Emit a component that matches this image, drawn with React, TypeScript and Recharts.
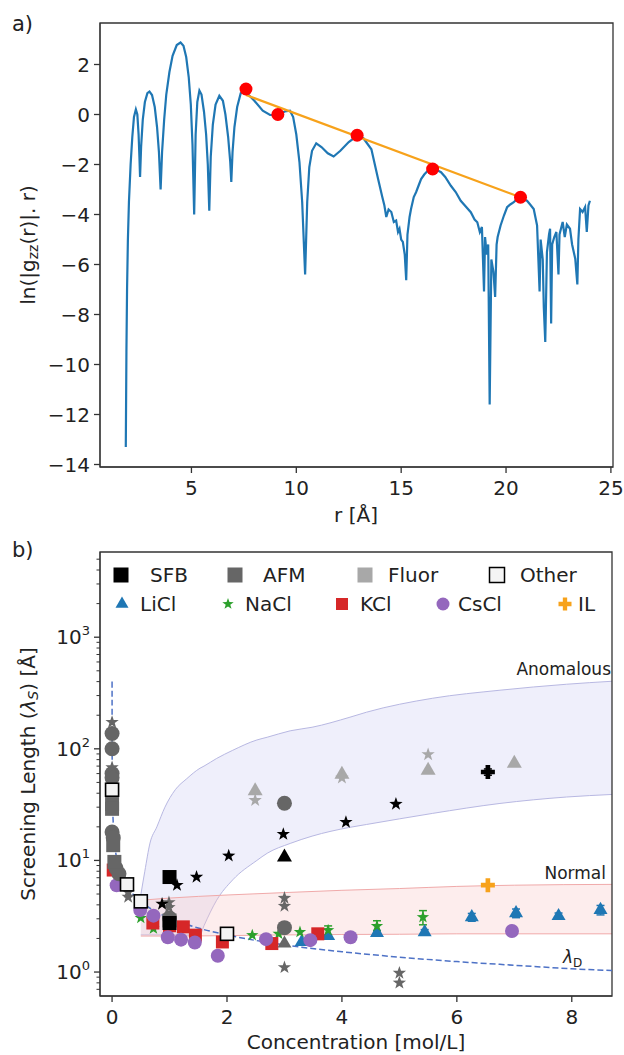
import React from 'react';
import { ComposedChart, Line, Scatter, Area, XAxis, YAxis, ReferenceArea, ErrorBar } from 'recharts';

type Pt = [number, number];
type EPt = [number, number, number?];

const FONT = '"DejaVu Sans", Verdana, sans-serif';
const INK = '#222';
const AXIS = '#333';
const BLUE = '#1f77b4';
const GREEN = '#2ca02c';
const RED = '#d62728';
const PURPLE = '#9467bd';
const ORANGE = '#f7a21b';
const AFM = '#666666';
const FLUOR = '#a8a8a8';

// ---------- panel a) ----------
const gzzCurve: Pt[] = [
  [1.87, -13.3], [1.9, -9.5], [1.93, -7], [1.97, -5], [2.02, -3.5], [2.1, -2], [2.18, -0.9], [2.26, -0.1],
  [2.35, 0.2], [2.42, 0], [2.48, -0.8], [2.52, -1.7], [2.55, -2.5], [2.6, -1.3], [2.68, -0.2], [2.78, 0.5],
  [2.9, 0.85], [3.0, 0.92], [3.12, 0.78], [3.25, 0.3], [3.36, -0.5], [3.45, -1.5], [3.53, -3.0], [3.6, -1.5],
  [3.7, -0.2], [3.8, 0.8], [3.95, 1.7], [4.1, 2.35], [4.3, 2.78], [4.48, 2.88], [4.62, 2.75], [4.75, 2.3],
  [4.87, 1.5], [4.97, 0.4], [5.05, -1.2], [5.13, -4.0], [5.2, -0.8], [5.28, 0.5], [5.38, 0.96], [5.48, 0.8],
  [5.6, 0.1], [5.7, -0.8], [5.78, -2.0], [5.85, -3.85], [5.92, -1.7], [6.02, -0.4], [6.15, 0.4], [6.33, 0.75],
  [6.5, 0.55], [6.62, 0], [6.75, -0.9], [6.85, -1.9], [6.9, -2.7], [6.96, -1.5], [7.05, -0.5], [7.18, 0.3],
  [7.35, 0.85], [7.5, 0.95], [7.65, 0.85], [8.0, 0.55], [8.4, 0.15], [8.75, -0.02], [9.1, -0.02], [9.45, 0.12],
  [9.7, 0.15], [9.85, -0.1], [10.0, -0.8], [10.15, -1.9], [10.28, -3.5], [10.42, -6.4], [10.52, -3.5],
  [10.62, -2.1], [10.75, -1.45], [10.95, -1.15], [11.2, -1.3], [11.5, -1.55], [11.78, -1.68], [12.1, -1.45],
  [12.5, -1.1], [12.9, -0.85], [13.2, -0.95], [13.58, -1.39], [13.9, -2.58], [14.1, -3.3], [14.2, -3.64],
  [14.29, -4.1], [14.4, -3.8], [14.53, -3.9], [14.65, -4.3], [14.76, -4.24], [14.85, -4.7], [14.92, -4.57],
  [15.0, -5.0], [15.08, -5.1], [15.17, -5.6], [15.24, -6.63], [15.3, -4.8], [15.4, -4.1], [15.47, -3.78],
  [15.6, -3.3], [15.71, -3.11], [15.85, -2.8], [15.95, -2.58], [16.1, -2.4], [16.27, -2.25], [16.5, -2.18],
  [16.7, -2.22], [16.9, -2.31], [17.1, -2.5], [17.37, -2.85], [17.6, -3.1], [17.84, -3.45], [18.1, -3.7],
  [18.32, -3.91], [18.5, -4.2], [18.63, -4.31], [18.75, -4.7], [18.85, -4.5], [18.95, -7.08], [19.0, -4.9],
  [19.08, -5.6], [19.15, -5.2], [19.22, -11.6], [19.3, -5.8], [19.4, -6.3], [19.48, -7.3], [19.55, -5.2],
  [19.6, -4.9], [19.74, -4.44], [19.9, -4.04], [20.05, -3.71], [20.2, -3.6], [20.37, -3.51], [20.5, -3.4],
  [20.69, -3.31], [20.85, -3.4], [21.0, -3.45], [21.15, -3.6], [21.32, -3.78], [21.48, -4.44], [21.6, -7.08],
  [21.65, -5.0], [21.75, -5.8], [21.8, -7.7], [21.87, -9.1], [21.95, -5.5], [22.05, -4.8], [22.1, -4.57],
  [22.15, -8.36], [22.2, -5.2], [22.3, -4.9], [22.4, -4.7], [22.5, -6.4], [22.55, -4.8], [22.7, -4.3],
  [22.8, -4.9], [22.9, -4.4], [23.05, -4.57], [23.15, -5.2], [23.3, -5.77], [23.4, -6.8], [23.45, -5.0],
  [23.53, -3.78], [23.65, -3.9], [23.77, -3.7], [23.85, -4.7], [23.93, -3.64], [24.0, -3.45],
];
const peakPoints: Pt[] = [[7.6, 1.02], [9.12, 0.0], [12.9, -0.83], [16.5, -2.18], [20.69, -3.31]];
const fitLine: Pt[] = [[7.6, 0.78], [20.69, -3.31]];
const rTicks = [5, 10, 15, 20, 25];
const lnTicks = [-14, -12, -10, -8, -6, -4, -2, 0, 2];

// ---------- panel b) ----------
const concTicks = [0, 2, 4, 6, 8];
const logTicks = [0.7, 0.8, 0.9, 1, 2, 3, 4, 5, 6, 7, 8, 9, 10, 20, 30, 40, 50, 60, 70, 80, 90,
  100, 200, 300, 400, 500, 600, 700, 800, 900, 1000, 2000, 3000, 4000, 5000];

const debyeLine: Pt[] = [
  [0.00006, 400], [0.001, 96], [0.01, 30], [0.05, 13.6], [0.1, 9.6], [0.2, 6.8], [0.3, 5.5], [0.5, 4.3],
  [0.75, 3.5], [1, 3.04], [1.5, 2.48], [2, 2.15], [3, 1.75], [4, 1.52], [5, 1.36], [6, 1.24], [7, 1.15],
  [8, 1.07], [8.7, 1.03],
];
const normalX = [0.5, 1, 2, 3, 4, 5, 6, 7, 8.7];
const normalLow = [2.1, 2.1, 2.12, 2.15, 2.17, 2.18, 2.2, 2.2, 2.2];
const normalHigh = [4.4, 4.6, 4.9, 5.15, 5.4, 5.6, 5.85, 6.0, 6.1];
const anomX = [0.5, 0.57, 0.66, 0.78, 0.92, 1.1, 1.3, 1.53, 1.6, 1.82, 2.1, 2.52, 2.7, 3.1, 3.48, 4.14, 4.43, 5.58, 6.75, 7.91, 8.7];
const anomLow = [2.15, 2.15, 2.15, 2.15, 2.15, 2.15, 2.15, 2.15, 2.6, 4.4, 6.7, 10, 11.6, 14.2, 16.5, 19.8, 21, 26.4, 32.4, 37, 39];
const anomHigh = [4.9, 8, 14.3, 20, 30, 43, 54, 67, 70, 82, 97, 120, 127, 145, 156, 192, 213, 284, 335, 379, 403];

// simulations (coloured)
const liclPts: EPt[] = [[3.3, 1.86], [3.76, 2.1], [4.61, 2.24, 0.12], [5.44, 2.28, 0.12], [6.26, 3.1, 0.25], [7.03, 3.37, 0.3], [7.77, 3.18, 0.2], [8.5, 3.6, 0.35]];
const naclPts: EPt[] = [[0.5, 3.05], [0.72, 2.45], [2.44, 2.14], [2.9, 2.2], [3.27, 2.28], [3.76, 2.37, 0.22], [4.61, 2.58, 0.3], [5.41, 3.1, 0.45]];
const kclPts: EPt[] = [[0.02, 8.2], [0.71, 2.75], [1.0, 2.6], [1.24, 2.54], [1.45, 2.14], [1.92, 1.86], [2.78, 1.8], [3.58, 2.2]];
const csclPts: EPt[] = [[0.08, 6.0], [0.49, 3.6], [0.72, 3.2], [0.97, 2.05], [1.2, 1.95], [1.44, 1.84], [1.84, 1.4], [2.68, 1.97], [3.45, 1.93], [4.15, 2.05], [6.96, 2.33]];
const ilPts: EPt[] = [[6.54, 6.0]];
// experiments
const afmStar: EPt[] = [[0.0, 173], [0.0, 68], [0.28, 4.7], [0.28, 5.2], [0.99, 4.2], [0.99, 3.8], [3.0, 4.6], [3.0, 3.9], [3.0, 1.1], [5.0, 0.98], [5.0, 0.8]];
const afmCircle: EPt[] = [[0.0, 137], [0.0, 100], [0.0, 60], [0.0, 55], [0.0, 18], [0.02, 16], [0.07, 8.5], [0.12, 7.6], [1.0, 3.05], [3.0, 32.5], [3.0, 2.5]];
const afmSquare: EPt[] = [[0.0, 32], [0.0, 29], [0.02, 13.7], [0.04, 9.7], [1.0, 2.9]];
const afmTri: EPt[] = [[3.0, 1.8]];
const fluorTri: EPt[] = [[2.49, 42], [4.0, 59], [5.5, 64], [7.0, 74]];
const fluorStar: EPt[] = [[2.49, 34.6], [4.0, 55], [5.5, 89]];
const sfbSquare: EPt[] = [[1.0, 7.1], [1.0, 2.75]];
const sfbStar: EPt[] = [[0.87, 4.07], [1.13, 6.0], [1.47, 7.1], [2.03, 11], [2.98, 17.2], [4.07, 22], [4.94, 32]];
const sfbTri: EPt[] = [[3.0, 10.7]];
const sfbPlus: EPt[] = [[6.54, 62, 4]];
const otherSquare: EPt[] = [[0.0, 43], [0.26, 6.1], [0.5, 4.3], [2.0, 2.2]];

const toXY = (pts: EPt[]) => pts.map(([x, y, err]) => ({ x, y, err }));

type Kind = 'square' | 'circle' | 'tri' | 'star' | 'plus';

function Marker({ kind, cx, cy, fill, stroke = 'none', sw = 0, size }: any) {
  if (cx == null || cy == null || isNaN(cx) || isNaN(cy)) return null;
  const s = size;
  if (kind === 'square') return <rect x={cx - s / 2} y={cy - s / 2} width={s} height={s} fill={fill} stroke={stroke} strokeWidth={sw} />;
  if (kind === 'circle') return <circle cx={cx} cy={cy} r={s / 2} fill={fill} stroke={stroke} strokeWidth={sw} />;
  if (kind === 'tri') {
    const R = s / 1.732;
    return <polygon points={`${cx},${cy - R} ${cx - s / 2},${cy + R / 2} ${cx + s / 2},${cy + R / 2}`} fill={fill} />;
  }
  if (kind === 'star') {
    const pts = [];
    for (let k = 0; k < 10; k++) {
      const a = (-90 + k * 36) * Math.PI / 180;
      const r = k % 2 ? s * 0.2 : s / 2;
      pts.push(`${cx + r * Math.cos(a)},${cy + r * Math.sin(a)}`);
    }
    return <polygon points={pts.join(' ')} fill={fill} />;
  }
  const a = s / 2, w = s / 6;
  const pl = [[-w, -a], [w, -a], [w, -w], [a, -w], [a, w], [w, w], [w, a], [-w, a], [-w, w], [-a, w], [-a, -w], [-w, -w]];
  return <polygon points={pl.map(([x, y]) => `${cx + x},${cy + y}`).join(' ')} fill={fill} />;
}

const scatterSeries: { pts: EPt[]; kind: Kind; fill: string; size: number; stroke?: string; sw?: number }[] = [
  { pts: liclPts, kind: 'tri', fill: BLUE, size: 14 },
  { pts: naclPts, kind: 'star', fill: GREEN, size: 13 },
  { pts: kclPts, kind: 'square', fill: RED, size: 13 },
  { pts: csclPts, kind: 'circle', fill: PURPLE, size: 14 },
  { pts: ilPts, kind: 'plus', fill: ORANGE, size: 14 },
  { pts: afmCircle, kind: 'circle', fill: AFM, size: 15 },
  { pts: afmSquare, kind: 'square', fill: AFM, size: 14 },
  { pts: afmStar, kind: 'star', fill: AFM, size: 14 },
  { pts: afmTri, kind: 'tri', fill: AFM, size: 14 },
  { pts: fluorTri, kind: 'tri', fill: FLUOR, size: 15 },
  { pts: fluorStar, kind: 'star', fill: FLUOR, size: 14 },
  { pts: sfbSquare, kind: 'square', fill: '#000', size: 14 },
  { pts: sfbStar, kind: 'star', fill: '#000', size: 14 },
  { pts: sfbTri, kind: 'tri', fill: '#000', size: 15 },
  { pts: sfbPlus, kind: 'plus', fill: '#000', size: 14 },
  { pts: otherSquare, kind: 'square', fill: '#f4f4f4', size: 13, stroke: '#000', sw: 1.6 },
];

const fmt = (v: number) => (v < 0 ? '\u2212' + Math.abs(v) : String(v));

function BottomTick({ x, y, payload }: any) {
  return (
    <g>
      <line x1={x} x2={x} y1={y} y2={y + 6} stroke={AXIS} strokeWidth={1.3} />
      <text x={x} y={y + 28} textAnchor="middle" fontSize={20} fontFamily={FONT} fill={INK}>{fmt(payload.value)}</text>
    </g>
  );
}

function LeftTick({ x, y, payload }: any) {
  return (
    <g>
      <line x1={x - 6} x2={x} y1={y} y2={y} stroke={AXIS} strokeWidth={1.3} />
      <text x={x - 10} y={y + 7} textAnchor="end" fontSize={20} fontFamily={FONT} fill={INK}>{fmt(payload.value)}</text>
    </g>
  );
}

function LogTick({ x, y, payload }: any) {
  const e = Math.log10(payload.value);
  const major = Math.abs(e - Math.round(e)) < 1e-9;
  if (!major) return <line x1={x - 3.5} x2={x} y1={y} y2={y} stroke={AXIS} strokeWidth={1} />;
  return (
    <g>
      <line x1={x - 6} x2={x} y1={y} y2={y} stroke={AXIS} strokeWidth={1.3} />
      <text x={x - 10} y={y + 7} textAnchor="end" fontSize={20} fontFamily={FONT} fill={INK}>
        10<tspan dy={-9} fontSize={13}>{Math.round(e)}</tspan>
      </text>
    </g>
  );
}

export default function App() {
  const gzzData = gzzCurve.map(([x, y]) => ({ x, y }));
  const fitData = fitLine.map(([x, y]) => ({ x, y }));
  const peakData = peakPoints.map(([x, y]) => ({ x, y }));
  const debyeData = debyeLine.map(([x, y]) => ({ x, y }));
  const normalData = normalX.map((x, i) => ({ x, range: [normalLow[i], normalHigh[i]] }));
  const anomData = anomX.map((x, i) => ({ x, range: [anomLow[i], anomHigh[i]] }));

  const row1: { label: string; kind: Kind; fill: string; mx: number; tx: number; stroke?: string }[] = [
    { label: 'SFB', kind: 'square', fill: '#000', mx: 121, tx: 150 },
    { label: 'AFM', kind: 'square', fill: AFM, mx: 235, tx: 263 },
    { label: 'Fluor', kind: 'square', fill: FLUOR, mx: 365, tx: 388 },
    { label: 'Other', kind: 'square', fill: '#f4f4f4', mx: 497, tx: 520, stroke: '#000' },
  ];
  const row2: { label: string; kind: Kind; fill: string; mx: number; tx: number; size: number }[] = [
    { label: 'LiCl', kind: 'tri', fill: BLUE, mx: 122, tx: 140, size: 13 },
    { label: 'NaCl', kind: 'star', fill: GREEN, mx: 228, tx: 245, size: 12 },
    { label: 'KCl', kind: 'square', fill: RED, mx: 342, tx: 360, size: 12 },
    { label: 'CsCl', kind: 'circle', fill: PURPLE, mx: 443, tx: 458, size: 13 },
    { label: 'IL', kind: 'plus', fill: ORANGE, mx: 565, tx: 578, size: 13 },
  ];

  return (
    <div style={{ position: 'absolute', left: 0, top: 0, width: 624, height: 1055, background: '#fff', fontFamily: FONT }}>
      <div style={{ position: 'absolute', left: 0, top: 0 }}>
        <ComposedChart width={624} height={500} margin={{ top: 23, right: 11, bottom: 0, left: 40 }}>
          <XAxis type="number" dataKey="x" domain={[0.64, 25.1]} ticks={rTicks} interval={0} allowDataOverflow
            height={33} tickSize={0} tickMargin={0} tickLine={false} axisLine={{ stroke: AXIS }} tick={(p: any) => <BottomTick {...p} />} />
          <YAxis type="number" domain={[-14.1, 3.66]} ticks={lnTicks} interval={0} allowDataOverflow
            width={60} tickSize={0} tickMargin={0} tickLine={false} axisLine={{ stroke: AXIS }} tick={(p: any) => <LeftTick {...p} />} />
          <Line data={gzzData} dataKey="y" type="linear" stroke={BLUE} strokeWidth={2.2} dot={false} isAnimationActive={false} />
          <Line data={fitData} dataKey="y" type="linear" stroke={ORANGE} strokeWidth={2.2} dot={false} isAnimationActive={false} />
          <Scatter data={peakData} dataKey="y" isAnimationActive={false}
            shape={(p: any) => <circle cx={p.cx} cy={p.cy} r={6.5} fill="#ff0000" />} />
          <ReferenceArea x1={0.64} x2={25.1} y1={-14.1} y2={3.66} fill="none" stroke={AXIS} strokeWidth={1.3} ifOverflow="visible" />
        </ComposedChart>
      </div>

      <div style={{ position: 'absolute', left: 0, top: 540 }}>
        <ComposedChart width={624} height={489} margin={{ top: 12, right: 12, bottom: 0, left: 40 }}>
          <XAxis type="number" dataKey="x" domain={[-0.21, 8.7]} ticks={concTicks} interval={0} allowDataOverflow
            height={33} tickSize={0} tickMargin={0} tickLine={false} axisLine={{ stroke: AXIS }} tick={(p: any) => <BottomTick {...p} />} />
          <YAxis type="number" scale="log" domain={[0.61, 5800]} ticks={logTicks} interval={0} allowDataOverflow
            width={60} tickSize={0} tickMargin={0} tickLine={false} axisLine={{ stroke: AXIS }} tick={(p: any) => <LogTick {...p} />} />
          <Area data={anomData} dataKey="range" type="monotone" fill="#d6d6f5" fillOpacity={0.4} stroke="#b8b8e2" strokeWidth={1} isAnimationActive={false} />
          <Area data={normalData} dataKey="range" type="monotone" fill="#f8c4c4" fillOpacity={0.3} stroke="#f0aaaa" strokeWidth={1} isAnimationActive={false} />
          <Line data={debyeData} dataKey="y" type="monotone" stroke="#4e72c6" strokeWidth={1.5} strokeDasharray="6 3" dot={false} isAnimationActive={false} />
          {scatterSeries.map((s, i) => (
            <Scatter key={i} data={toXY(s.pts)} dataKey="y" isAnimationActive={false}
              shape={(p: any) => <Marker kind={s.kind} cx={p.cx} cy={p.cy} fill={s.fill} stroke={s.stroke} sw={s.sw} size={s.size} />}>
              <ErrorBar dataKey="err" direction="y" width={4} stroke={s.fill} strokeWidth={1.5} />
            </Scatter>
          ))}
          <ReferenceArea x1={-0.21} x2={8.7} y1={0.61} y2={5800} fill="none" stroke={AXIS} strokeWidth={1.3} ifOverflow="visible" />
        </ComposedChart>
      </div>

      <svg width={624} height={1055} style={{ position: 'absolute', left: 0, top: 0, pointerEvents: 'none' }} fontFamily={FONT} fill={INK}>
        <text x={12} y={31} fontSize={21}>a)</text>
        <text transform="translate(28,245) rotate(-90)" textAnchor="middle" dominantBaseline="central" fontSize={20}>
          ln(|g<tspan dy={5} fontSize={14}>zz</tspan><tspan dy={-5}>(r)|. r)</tspan>
        </text>
        <text x={356} y={522} textAnchor="middle" fontSize={20}>r [Å]</text>

        <text x={12} y={557} fontSize={21}>b)</text>
        <text transform="translate(28,774) rotate(-90)" textAnchor="middle" dominantBaseline="central" fontSize={20}>
          Screening Length (<tspan fontStyle="italic">λ</tspan><tspan dy={5} fontSize={14} fontStyle="italic">S</tspan><tspan dy={-5}>) [Å]</tspan>
        </text>
        <text x={356} y={1049} textAnchor="middle" fontSize={20}>Concentration [mol/L]</text>

        <text x={611} y={675} textAnchor="end" fontSize={17}>Anomalous</text>
        <text x={606} y={879} textAnchor="end" fontSize={17}>Normal</text>
        <text x={563} y={963} fontSize={17} fontStyle="italic">λ<tspan dy={4} fontSize={12} fontStyle="normal">D</tspan></text>

        {row1.map((r) => (
          <g key={r.label}>
            <Marker kind={r.kind} cx={r.mx} cy={575} fill={r.fill} size={15} stroke={r.stroke} sw={r.stroke ? 1.5 : 0} />
            <text x={r.tx} y={582} fontSize={20}>{r.label}</text>
          </g>
        ))}
        {row2.map((r) => (
          <g key={r.label}>
            <Marker kind={r.kind} cx={r.mx} cy={604} fill={r.fill} size={r.size} />
            <text x={r.tx} y={611} fontSize={20}>{r.label}</text>
          </g>
        ))}
      </svg>
    </div>
  );
}
